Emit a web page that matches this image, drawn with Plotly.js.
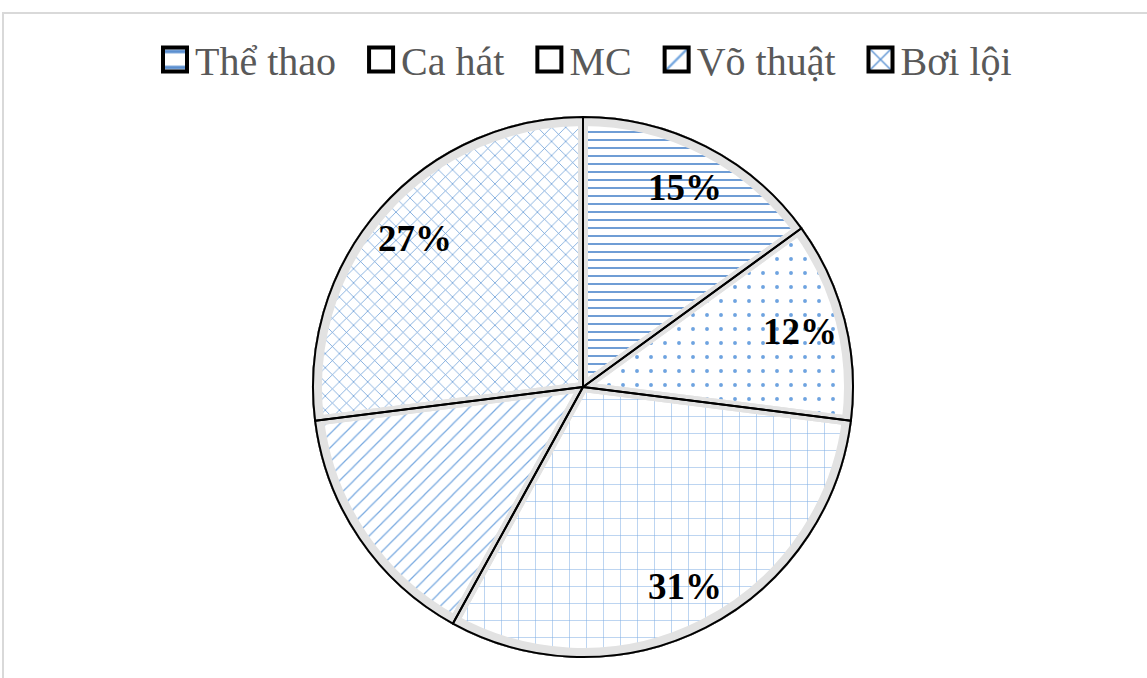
<!DOCTYPE html>
<html>
<head>
<meta charset="utf-8">
<script src="https://cdn.plot.ly/plotly-3.0.1.min.js"></script>
<style>
html,body{margin:0;padding:0;background:#fff;overflow:hidden;}
#chart{width:1147px;height:678px;}
.legend .legendpie{transform:translate(20px,0px) scale(2);}
</style>
</head>
<body>
<div id="chart"></div>
<script>
// Data
const categories = ['Thể thao', 'Ca hát', 'MC', 'Võ thuật', 'Bơi lội'];
const values = [15, 12, 31, 15, 27];
const sliceLabels = ['15%', '12%', '31%', '', '27%'];
const patternShapes = ['-', '.', '+', '/', 'x'];

// Styles
const blue = '#5b8fd0';
const patternSizes = [8, 14, 17, 10, 10];
const patternSolidity = [0.22, 0.06, 0.06, 0.12, 0.14];
const patternFg = [blue, '#6ea3e0', '#7eaee3', '#76a8e0', '#5f95d4'];
const legendPad = '\u2002';

const W = 1147, H = 678;
const cxPx = 583, cyPx = 387, R = 270;
const dom = {x: [(cxPx - R) / W, (cxPx + R) / W], y: [1 - (cyPx + R) / H, 1 - (cyPx - R) / H]};
const inset = 4;
const domB = {x: [(cxPx - R + inset) / W, (cxPx + R - inset) / W], y: [1 - (cyPx + R - inset) / H, 1 - (cyPx - R + inset) / H]};

const common = {
  type: 'pie', values: values, sort: false,
  direction: 'clockwise', rotation: 0, textinfo: 'none', hoverinfo: 'label+percent'
};

const traceA = Object.assign({}, common, {
  labels: categories.map(c => c + legendPad),
  domain: dom,
  marker: {
    colors: categories.map(() => '#ffffff'),
    line: {color: '#000000', width: 2},
    pattern: {shape: patternShapes, size: patternSizes, solidity: patternSolidity,
              fgcolor: patternFg, bgcolor: categories.map(() => '#ffffff'), fillmode: 'replace'}
  },
  showlegend: true
});
const traceB = Object.assign({}, common, {
  labels: categories,
  domain: domB, showlegend: false,
  marker: {colors: categories.map(() => 'rgba(0,0,0,0)'), line: {color: '#e2e2e2', width: 10}}
});
const traceC = Object.assign({}, common, {
  labels: categories,
  domain: dom, showlegend: false,
  marker: {colors: categories.map(() => 'rgba(0,0,0,0)'), line: {color: '#000000', width: 2}}
});

// Label annotations computed from the data
const total = values.reduce((a, b) => a + b, 0);
const labelR = 0.83;
const annotations = [];
let cum = 0;
values.forEach((v, i) => {
  const mid = (cum + v / 2) / total;
  cum += v;
  if (!sliceLabels[i]) return;
  const th = 2 * Math.PI * mid;
  annotations.push({
    xref: 'paper', yref: 'paper',
    x: (cxPx + labelR * R * Math.sin(th)) / W,
    y: 1 - (cyPx - labelR * R * Math.cos(th)) / H,
    text: '<b>' + sliceLabels[i] + '</b>', showarrow: false,
    xanchor: 'center', yanchor: 'middle',
    font: {family: 'Liberation Serif', size: 37, color: '#000000'}
  });
});

const layout = {
  width: W, height: H,
  margin: {l: 0, r: 0, t: 0, b: 0},
  paper_bgcolor: '#ffffff',
  showlegend: true,
  legend: {
    orientation: 'h', x: 596 / W, xanchor: 'center', y: 1 - 27 / H, yanchor: 'top',
    font: {family: 'Liberation Serif', size: 40, color: '#595959'},
    itemclick: false, itemdoubleclick: false, traceorder: 'normal'
  },
  annotations: annotations,
  shapes: [{
    type: 'rect', xref: 'paper', yref: 'paper',
    x0: 3 / W, x1: 1.2, y0: -0.2, y1: 1 - 13 / H,
    line: {color: '#d9d9d9', width: 2}, fillcolor: 'rgba(0,0,0,0)', layer: 'below'
  }]
};

Plotly.newPlot('chart', [traceA, traceB, traceC], layout, {displayModeBar: false, staticPlot: true});
</script>
</body>
</html>
